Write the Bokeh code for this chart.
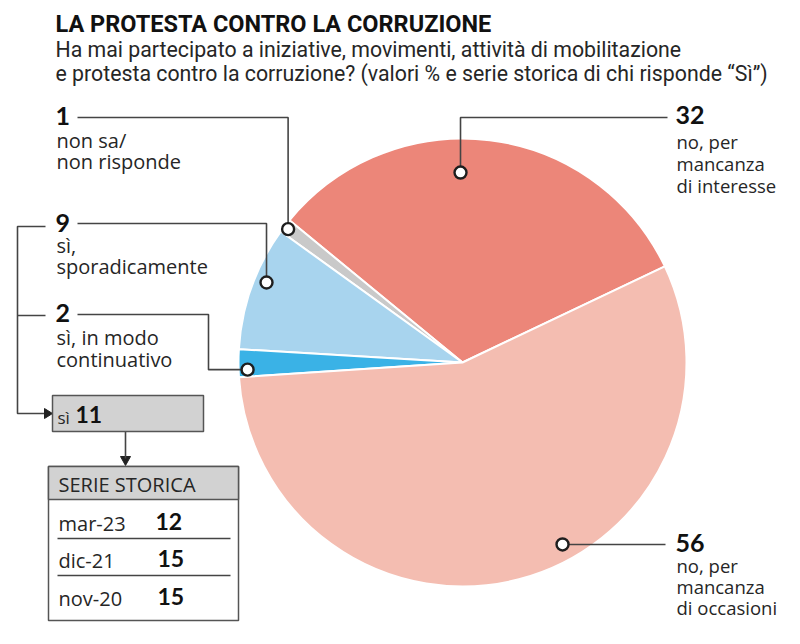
import numpy as np
from bokeh.plotting import figure
from bokeh.models import Range1d
from bokeh.core.properties import value
from bokeh.embed import file_html
from bokeh.resources import INLINE

# ---------------- data ----------------
title = "LA PROTESTA CONTRO LA CORRUZIONE"
subtitle = ["Ha mai partecipato a iniziative, movimenti, attività di mobilitazione",
            "e protesta contro la corruzione? (valori % e serie storica di chi risponde \u201cSì\u201d)"]
categories = ["no, per mancanza di interesse", "non sa/non risponde", "sì, sporadicamente",
              "sì, in modo continuativo", "no, per mancanza di occasioni"]
values = [32, 1, 9, 2, 56]
label_lines = [["no, per", "mancanza", "di interesse"],
               ["non sa/", "non risponde"],
               ["sì,", "sporadicamente"],
               ["sì, in modo", "continuativo"],
               ["no, per", "mancanza", "di occasioni"]]
si_label = "sì"
si_total = 11
serie_title = "SERIE STORICA"
serie_labels = ["mar-23", "dic-21", "nov-20"]
serie_values = [12, 15, 15]

# ---------------- style / layout ----------------
colors = ["#EC8679", "#C9C9C9", "#A8D4EE", "#3AB2E6", "#F4BDB1"]
H = 644
def Y(y):
    return H - np.asarray(y, dtype=float)

def TB(y, size):
    # baseline position corrected for the svg text offset
    return Y(np.asarray(y, dtype=float) - 0.37 * size)

cx, cy, R = 462, 362, 224
start_deg = 25.4
TXT = "#262626"
LINE = "#444444"
FONT = value("Open Sans")
NUMF = value("Lato")
HEAD = value("Roboto")

p = figure(width=784, height=628, x_range=Range1d(0, 784), y_range=Range1d(16, 644),
           output_backend="svg", toolbar_location=None, min_border=0,
           x_axis_location=None, y_axis_location=None, title=None)
p.grid.visible = False
p.outline_line_color = None
p.background_fill_color = "white"
p.border_fill_color = "white"

# ---------------- pie ----------------
vals = np.array(values, dtype=float)
cum = np.concatenate([[0], np.cumsum(vals)]) / vals.sum()
starts = np.deg2rad(start_deg) + 2 * np.pi * cum[:-1]
ends = np.deg2rad(start_deg) + 2 * np.pi * cum[1:]
p.wedge(x=[cx] * len(vals), y=[Y(cy)] * len(vals), radius=R,
        start_angle=starts, end_angle=ends, direction="anticlock",
        fill_color=colors, line_color="white", line_width=2)

# ---------------- leaders ----------------
marker_ang = [90.6, 142.6, 157.8, 181.9, -61.2]
marker_rf = [0.848, 0.98, 0.945, 0.96, 0.927]
mx = [cx + R * f * np.cos(np.deg2rad(a)) for a, f in zip(marker_ang, marker_rf)]
my = [cy - R * f * np.sin(np.deg2rad(a)) for a, f in zip(marker_ang, marker_rf)]

leaders = [
    [(667, 117), (mx[0], 117), (mx[0], my[0])],
    [(77, 117), (mx[1], 117), (mx[1], my[1])],
    [(77, 223), (mx[2], 223), (mx[2], my[2])],
    [(77, 314), (208, 314), (208, my[3]), (mx[3], my[3])],
    [(665, my[4]), (mx[4], my[4])],
]
p.multi_line(xs=[[pt[0] for pt in l] for l in leaders],
             ys=[list(Y([pt[1] for pt in l])) for l in leaders],
             line_color=LINE, line_width=1.6)

# bracket to "sì" box
p.multi_line(xs=[[45, 17, 17, 45], [17, 45]],
             ys=[list(Y([226, 226, 413, 413])), list(Y([315, 315]))],
             line_color=LINE, line_width=1.6)
# arrowheads
p.patches(xs=[[44, 52, 44], [120, 130, 125]],
          ys=[list(Y([408, 413, 418])), list(Y([456, 456, 465]))],
          fill_color="#222222", line_color="#222222", line_width=1)
p.line(x=[125, 125], y=Y([431, 458]), line_color=LINE, line_width=1.6)

p.scatter(x=mx, y=Y(my), size=12, marker="circle", fill_color="white",
          line_color="#1e1e1e", line_width=2.4)

# ---------------- labels ----------------
NS = 25
num_pos = [(675, 124), (55, 125), (55, 232), (55, 322), (675, 552)]
line_pos = [(676, [148, 170, 192]), (56, [147, 168]), (56, [252, 273]),
            (56, [344, 366]), (676, [572, 593, 614])]
line_size = [18.5, 20, 20, 20, 18.5]
p.text(x=[q[0] for q in num_pos], y=TB([q[1] for q in num_pos], NS),
       text=[str(v) for v in values], text_font=NUMF, text_font_style="bold",
       text_font_size=f"{NS}px", text_color="#111111", text_baseline="alphabetic")
for (x0, ys), lines, ls in zip(line_pos, label_lines, line_size):
    p.text(x=[x0] * len(lines), y=TB(ys, ls), text=lines, text_font=FONT,
           text_font_size=f"{ls}px", text_color=TXT, text_baseline="alphabetic")

# ---------------- "sì 11" box ----------------
p.quad(left=52, right=203, top=Y(395), bottom=Y(431), fill_color="#D2D2D2",
       line_color="#555555", line_width=1.5)
p.text(x=[57], y=TB([423], 17), text=[si_label], text_font=FONT, text_font_size="17px",
       text_color=TXT, text_baseline="alphabetic")
p.text(x=[75], y=TB([423], 23), text=[str(si_total)], text_font=NUMF, text_font_style="bold",
       text_font_size="23px", text_color="#111111", text_baseline="alphabetic")

# ---------------- table ----------------
p.quad(left=48, right=238, top=Y(466), bottom=Y(620), fill_color="white",
       line_color="#555555", line_width=1.5)
p.quad(left=48, right=238, top=Y(466), bottom=Y(499), fill_color="#D2D2D2",
       line_color="#555555", line_width=1.5)
p.text(x=[58], y=TB([491], 20), text=[serie_title], text_font=FONT, text_font_size="20px",
       text_color=TXT, text_baseline="alphabetic")
row_y = [530, 567, 605]
p.text(x=[58] * 3, y=TB(row_y, 20), text=serie_labels, text_font=FONT, text_font_size="20px",
       text_color=TXT, text_baseline="alphabetic")
p.text(x=[155, 157, 157], y=TB(row_y, 23), text=[str(v) for v in serie_values], text_font=NUMF,
       text_font_style="bold", text_font_size="23px", text_color="#111111",
       text_baseline="alphabetic")
p.multi_line(xs=[[57, 230], [57, 230]], ys=[list(Y([538, 538])), list(Y([575, 575]))],
             line_color=LINE, line_width=1.5)

# ---------------- title ----------------
p.text(x=[55], y=TB([32], 23.5), text=[title], text_font=HEAD, text_font_style="bold",
       text_font_size="23.5px", text_color="#111111", text_baseline="alphabetic")
p.text(x=[55, 55], y=TB([57, 81], 21.3), text=subtitle, text_font=HEAD,
       text_font_size="21.3px", text_color=TXT, text_baseline="alphabetic")

open("out.html", "w").write(file_html(p, INLINE))
